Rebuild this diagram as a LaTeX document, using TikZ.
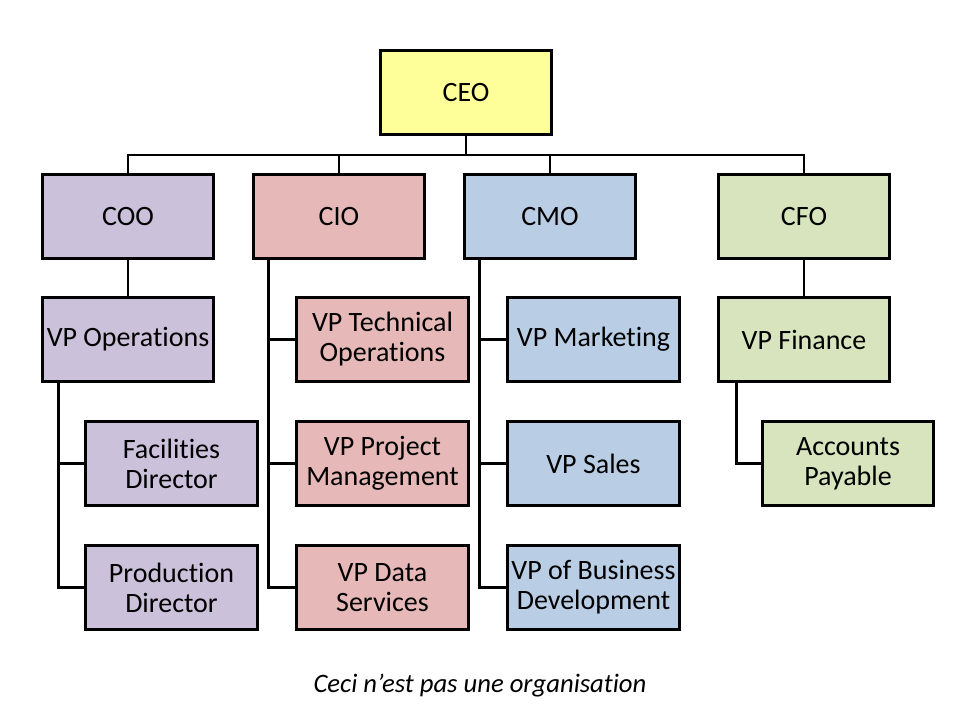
\documentclass[tikz,border=0pt]{standalone}
\usepackage{fontspec}
\setmainfont[RawFeature=-liga]{Carlito}
\usepackage{tikz}
\usetikzlibrary{positioning}
\definecolor{ceoyellow}{RGB}{255, 255, 153}
\definecolor{coopurple}{RGB}{204, 193, 218}
\definecolor{ciopink}{RGB}{230, 185, 184}
\definecolor{cmoblue}{RGB}{185, 205, 229}
\definecolor{cfogreen}{RGB}{215, 228, 189}

\begin{document}
\begin{tikzpicture}[
  x=0.75pt, y=-0.75pt,
  obox/.style={draw=black, line width=2.2pt, minimum width=128.5pt, minimum height=63pt, align=center, inner sep=1pt, font=\fontsize{21}{22.5}\selectfont},
  conn/.style={draw=black, line width=2.2pt}
]
  \useasboundingbox (0,0) rectangle (960,720);

  % top
  \node[obox, fill=ceoyellow] (ceo) at (466, 92.5) {CEO};

  % chiefs
  \node[obox, fill=coopurple] (coo) at (128, 216.5) {COO};
  \node[obox, fill=ciopink] (cio) at (339, 216.5) {CIO};
  \node[obox, fill=cmoblue] (cmo) at (550, 216.5) {CMO};
  \node[obox, fill=cfogreen] (cfo) at (804, 216.5) {CFO};

  % operations
  \node[obox, fill=coopurple] (vpops) at (128, 339.5) {VP Operations};
  \node[obox, fill=coopurple] (facdir) at (171.5, 463.5) {Facilities\\Director};
  \node[obox, fill=coopurple] (proddir) at (171.5, 587.5) {Production\\Director};

  % information
  \node[obox, fill=ciopink] (vptech) at (382.5, 339.5) {VP Technical\\Operations};
  \node[obox, fill=ciopink] (vpproj) at (382.5, 463.5) {VP Project\\Management};
  \node[obox, fill=ciopink] (vpdata) at (382.5, 587.5) {VP Data\\Services};

  % marketing
  \node[obox, fill=cmoblue] (vpmkt) at (593.5, 339.5) {VP Marketing};
  \node[obox, fill=cmoblue] (vpsales) at (593.5, 463.5) {VP Sales};
  \node[obox, fill=cmoblue] (vpbiz) at (593.5, 587.5) {VP of Business\\Development};

  % finance
  \node[obox, fill=cfogreen] (vpfin) at (804, 339.5) {VP Finance};
  \node[obox, fill=cfogreen] (acctpay) at (848, 463.5) {Accounts\\Payable};

  % connectors
  \coordinate (bus) at (466, 155);
  \draw[conn] (ceo.south) -- (bus);
  \draw[conn] (coo.north) -- (coo.north |- bus) -- (cfo.north |- bus) -- (cfo.north);
  \draw[conn] (cio.north) -- (cio.north |- bus);
  \draw[conn] (cmo.north) -- (cmo.north |- bus);

  \draw[conn] (coo.south) -- (vpops.north);
  \draw[conn] ([xshift=13.5pt]vpops.south west) |- (proddir.west);
  \draw[conn] ([xshift=13.5pt]vpops.south west) |- (facdir.west);

  \draw[conn] ([xshift=12.75pt]cio.south west) |- (vpdata.west);
  \draw[conn] ([xshift=12.75pt]cio.south west) |- (vpproj.west);
  \draw[conn] ([xshift=12.75pt]cio.south west) |- (vptech.west);

  \draw[conn] ([xshift=12.75pt]cmo.south west) |- (vpbiz.west);
  \draw[conn] ([xshift=12.75pt]cmo.south west) |- (vpsales.west);
  \draw[conn] ([xshift=12.75pt]cmo.south west) |- (vpmkt.west);

  \draw[conn] (cfo.south) -- (vpfin.north);
  \draw[conn] ([xshift=15pt]vpfin.south west) |- (acctpay.west);

  % caption
  \node[font=\fontsize{20}{24}\selectfont\itshape] (caption) at (480, 686) {Ceci n’est pas une organisation};
\end{tikzpicture}
\end{document}
